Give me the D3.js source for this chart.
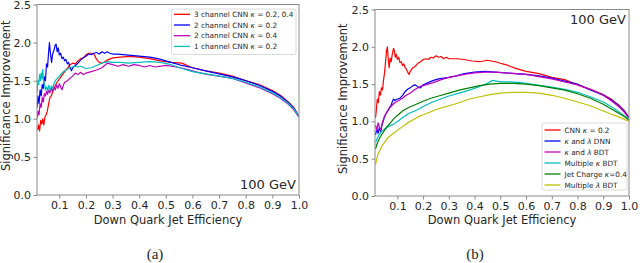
<!DOCTYPE html>
<html>
<head>
<meta charset="utf-8">
<script src="https://cdn.jsdelivr.net/npm/d3@7"></script>
<style>
  html, body { margin: 0; padding: 0; background: #fff; }
  svg { display: block; font-family: 'DejaVu Sans', sans-serif; }
</style>
</head>
<body>
<div id="chart"></div>
<script>
// Data: [efficiency, significance improvement]

let ticksX = [0.1, 0.2, 0.3, 0.4, 0.5, 0.6, 0.7, 0.8, 0.9, 1.0]
let ticksY = [0.0, 0.5, 1.0, 1.5, 2.0, 2.5]

// (a)
let labelsA = [`3 channel CNN κ = 0.2, 0.4`, `2 channel CNN κ = 0.2`, `2 channel CNN κ = 0.4`, `1 channel CNN κ = 0.2`]
let colorsA = [`#ff0000`, `#0000ff`, `#bf00bf`, `#00bfbf`]

let cnn3ch = [[0.018,0.85],[0.022,0.92],[0.026,0.84],[0.03,0.98],[0.034,0.93],[0.038,1.0],[0.042,0.92],[0.046,1.02],[0.05,1.05],[0.055,1.1],[0.06,1.2],[0.065,1.28],[0.07,1.3],[0.08,1.4],[0.09,1.47],[0.1,1.52],[0.11,1.57],[0.12,1.62],[0.13,1.66],[0.14,1.71],[0.15,1.73],[0.16,1.72],[0.17,1.76],[0.18,1.79],[0.19,1.8],[0.2,1.84],[0.21,1.86],[0.22,1.86],[0.23,1.85],[0.24,1.78],[0.25,1.74],[0.26,1.73],[0.27,1.75],[0.28,1.77],[0.3,1.8],[0.33,1.81],[0.36,1.82],[0.4,1.81],[0.44,1.79],[0.48,1.76],[0.52,1.74],[0.56,1.73],[0.6,1.67],[0.65,1.63],[0.7,1.6],[0.75,1.56],[0.8,1.5],[0.85,1.45],[0.9,1.37],[0.93,1.31],[0.96,1.22],[0.98,1.15],[1.0,1.03]]
let cnn2chK2 = [[0.017,1.15],[0.02,1.3],[0.024,1.2],[0.028,1.38],[0.032,1.3],[0.036,1.45],[0.04,1.4],[0.044,1.55],[0.048,1.5],[0.052,1.72],[0.056,1.68],[0.06,1.88],[0.063,2.0],[0.067,1.85],[0.071,1.74],[0.075,1.85],[0.08,1.9],[0.085,1.97],[0.088,1.98],[0.092,1.88],[0.096,1.93],[0.1,1.84],[0.105,1.86],[0.11,1.79],[0.115,1.81],[0.12,1.76],[0.125,1.78],[0.13,1.72],[0.135,1.74],[0.14,1.67],[0.146,1.63],[0.15,1.67],[0.16,1.7],[0.17,1.73],[0.18,1.77],[0.19,1.8],[0.2,1.82],[0.21,1.85],[0.22,1.84],[0.23,1.86],[0.24,1.87],[0.25,1.85],[0.26,1.88],[0.27,1.86],[0.28,1.88],[0.29,1.86],[0.3,1.85],[0.32,1.85],[0.35,1.84],[0.38,1.83],[0.41,1.82],[0.44,1.81],[0.47,1.79],[0.5,1.76],[0.53,1.73],[0.56,1.7],[0.6,1.67],[0.65,1.63],[0.7,1.59],[0.75,1.55],[0.8,1.5],[0.85,1.44],[0.9,1.36],[0.93,1.3],[0.96,1.21],[0.98,1.14],[1.0,1.03]]
let cnn2chK4 = [[0.017,1.0],[0.02,1.1],[0.024,1.05],[0.028,1.2],[0.032,1.15],[0.036,1.28],[0.04,1.22],[0.044,1.33],[0.048,1.3],[0.052,1.36],[0.056,1.32],[0.06,1.38],[0.065,1.34],[0.07,1.4],[0.075,1.36],[0.08,1.42],[0.085,1.38],[0.09,1.44],[0.095,1.4],[0.1,1.46],[0.105,1.42],[0.11,1.38],[0.115,1.44],[0.12,1.48],[0.13,1.5],[0.14,1.53],[0.15,1.56],[0.16,1.6],[0.17,1.58],[0.18,1.61],[0.19,1.58],[0.2,1.6],[0.22,1.62],[0.24,1.64],[0.26,1.67],[0.28,1.73],[0.3,1.71],[0.32,1.69],[0.34,1.71],[0.36,1.69],[0.38,1.71],[0.4,1.7],[0.42,1.68],[0.44,1.7],[0.46,1.68],[0.5,1.7],[0.54,1.68],[0.58,1.65],[0.62,1.61],[0.66,1.58],[0.7,1.56],[0.75,1.53],[0.8,1.47],[0.85,1.41],[0.9,1.33],[0.93,1.27],[0.96,1.19],[0.98,1.12],[1.0,1.02]]
let cnn1ch = [[0.017,1.35],[0.02,1.5],[0.023,1.45],[0.026,1.58],[0.029,1.5],[0.032,1.6],[0.035,1.52],[0.038,1.65],[0.041,1.5],[0.044,1.45],[0.048,1.38],[0.052,1.42],[0.056,1.36],[0.06,1.44],[0.065,1.38],[0.07,1.43],[0.075,1.4],[0.08,1.46],[0.085,1.5],[0.09,1.52],[0.1,1.56],[0.11,1.6],[0.12,1.63],[0.13,1.65],[0.14,1.67],[0.15,1.68],[0.16,1.69],[0.17,1.68],[0.18,1.69],[0.2,1.66],[0.22,1.67],[0.24,1.7],[0.26,1.73],[0.28,1.75],[0.3,1.74],[0.33,1.74],[0.36,1.73],[0.4,1.74],[0.44,1.75],[0.48,1.74],[0.52,1.71],[0.56,1.66],[0.6,1.62],[0.65,1.59],[0.7,1.56],[0.75,1.53],[0.8,1.48],[0.85,1.42],[0.9,1.34],[0.93,1.28],[0.96,1.2],[0.98,1.13],[1.0,1.03]]

// (b)
let labelsB = [`CNN κ = 0.2`, `κ and λ DNN`, `κ and λ BDT`, `Multiple κ BDT`, `Jet Charge κ=0.4`, `Multiple λ BDT`]
let colorsB = [`#ff0000`, `#0000ff`, `#bf00bf`, `#00bfbf`, `#008000`, `#bfbf00`]

let cnn = [[0.015,1.05],[0.018,1.15],[0.022,1.3],[0.026,1.25],[0.03,1.4],[0.034,1.35],[0.038,1.45],[0.042,1.42],[0.046,1.55],[0.05,1.65],[0.054,1.8],[0.058,1.95],[0.061,2.0],[0.064,1.85],[0.068,1.72],[0.072,1.85],[0.076,1.8],[0.08,1.9],[0.085,1.98],[0.088,1.95],[0.092,1.86],[0.096,1.9],[0.1,1.83],[0.105,1.86],[0.11,1.79],[0.115,1.8],[0.12,1.75],[0.125,1.77],[0.13,1.72],[0.135,1.7],[0.14,1.66],[0.145,1.63],[0.15,1.67],[0.16,1.72],[0.17,1.74],[0.18,1.78],[0.19,1.8],[0.2,1.83],[0.21,1.84],[0.22,1.83],[0.23,1.86],[0.24,1.85],[0.25,1.88],[0.26,1.86],[0.27,1.87],[0.28,1.84],[0.29,1.86],[0.3,1.84],[0.33,1.84],[0.36,1.83],[0.39,1.81],[0.42,1.8],[0.45,1.82],[0.48,1.8],[0.5,1.78],[0.53,1.75],[0.56,1.71],[0.6,1.67],[0.65,1.64],[0.7,1.59],[0.75,1.56],[0.8,1.49],[0.85,1.43],[0.9,1.36],[0.93,1.3],[0.96,1.22],[0.98,1.15],[1.0,1.05]]
let dnnKL = [[0.015,0.82],[0.02,0.9],[0.025,0.84],[0.03,0.92],[0.035,0.86],[0.04,0.95],[0.045,1.0],[0.05,1.06],[0.055,1.1],[0.06,1.13],[0.065,1.15],[0.07,1.19],[0.075,1.21],[0.08,1.26],[0.085,1.3],[0.09,1.28],[0.1,1.3],[0.11,1.31],[0.12,1.35],[0.13,1.4],[0.14,1.43],[0.15,1.45],[0.16,1.48],[0.17,1.49],[0.18,1.46],[0.19,1.45],[0.2,1.49],[0.22,1.52],[0.24,1.55],[0.26,1.57],[0.28,1.58],[0.3,1.59],[0.33,1.61],[0.36,1.64],[0.4,1.66],[0.44,1.67],[0.48,1.66],[0.52,1.65],[0.56,1.64],[0.6,1.63],[0.65,1.61],[0.7,1.58],[0.75,1.54],[0.8,1.5],[0.85,1.42],[0.9,1.35],[0.93,1.29],[0.96,1.21],[0.98,1.14],[1.0,1.05]]
let bdtKL = [[0.015,0.95],[0.02,0.88],[0.025,0.98],[0.03,0.92],[0.035,0.88],[0.04,0.96],[0.045,1.02],[0.05,1.07],[0.06,1.13],[0.07,1.18],[0.08,1.22],[0.09,1.25],[0.1,1.27],[0.11,1.29],[0.12,1.31],[0.13,1.34],[0.14,1.36],[0.15,1.38],[0.17,1.43],[0.19,1.47],[0.21,1.49],[0.24,1.52],[0.27,1.56],[0.3,1.59],[0.33,1.61],[0.36,1.63],[0.4,1.65],[0.44,1.66],[0.48,1.66],[0.52,1.65],[0.56,1.64],[0.6,1.63],[0.65,1.6],[0.7,1.57],[0.75,1.53],[0.8,1.49],[0.85,1.43],[0.9,1.35],[0.93,1.28],[0.96,1.2],[0.98,1.13],[1.0,1.04]]
let bdtMultiK = [[0.015,0.72],[0.02,0.76],[0.03,0.83],[0.04,0.87],[0.05,0.9],[0.06,0.92],[0.07,0.94],[0.085,0.96],[0.1,1.0],[0.12,1.05],[0.14,1.1],[0.16,1.13],[0.18,1.16],[0.2,1.2],[0.23,1.25],[0.26,1.29],[0.3,1.34],[0.34,1.38],[0.38,1.42],[0.42,1.47],[0.45,1.51],[0.47,1.55],[0.5,1.53],[0.54,1.53],[0.58,1.52],[0.62,1.5],[0.66,1.48],[0.7,1.46],[0.75,1.43],[0.8,1.39],[0.85,1.33],[0.9,1.26],[0.93,1.2],[0.96,1.13],[0.98,1.08],[1.0,1.03]]
let jetCharge = [[0.015,0.63],[0.02,0.69],[0.03,0.77],[0.04,0.83],[0.05,0.88],[0.06,0.93],[0.07,0.97],[0.085,1.03],[0.1,1.08],[0.12,1.14],[0.14,1.18],[0.16,1.21],[0.18,1.24],[0.2,1.27],[0.23,1.31],[0.26,1.34],[0.3,1.38],[0.34,1.42],[0.38,1.45],[0.42,1.48],[0.46,1.5],[0.5,1.51],[0.55,1.51],[0.6,1.5],[0.65,1.48],[0.7,1.45],[0.75,1.42],[0.8,1.37],[0.85,1.31],[0.9,1.23],[0.93,1.17],[0.96,1.11],[0.98,1.07],[1.0,1.02]]
let bdtMultiL = [[0.015,0.42],[0.02,0.5],[0.025,0.56],[0.03,0.6],[0.04,0.67],[0.05,0.72],[0.06,0.77],[0.07,0.8],[0.085,0.84],[0.1,0.88],[0.12,0.93],[0.14,0.98],[0.16,1.02],[0.18,1.06],[0.2,1.09],[0.23,1.13],[0.26,1.17],[0.3,1.21],[0.34,1.25],[0.38,1.3],[0.42,1.33],[0.46,1.36],[0.5,1.38],[0.55,1.39],[0.6,1.39],[0.65,1.38],[0.7,1.35],[0.75,1.31],[0.8,1.26],[0.85,1.21],[0.9,1.14],[0.93,1.1],[0.96,1.06],[0.98,1.03],[1.0,1.0]]

// Helpers

d3.selection.prototype.attrs = function (obj) {
  Object.entries(obj).forEach(([k, v]) => this.attr(k, v))
  return this
}

let width = 640
let height = 263
let spine = `#8a8a8a`
let ink = `#262626`

let svg = d3.select(`#chart`)
  .append(`svg`)
  .attrs({ width, height, viewBox: `0 0 ${width} ${height}` })

// greek letters are set in italic, like matplotlib mathtext
let richText = (sel, str) => {
  str.split(/([κλ])/).filter(s => s.length).forEach(part => {
    let t = sel.append(`tspan`).text(part)
    if (/[κλ]/.test(part)) t.attr(`font-style`, `italic`)
  })
}

let panel = ({ id, left, right, top, bottom, xMin, series, colors, labels, legend, energy, ylabelX, captionX, caption }) => {
  let x = d3.scaleLinear().domain([xMin, 1.0]).range([left, right])
  let y = d3.scaleLinear().domain([0, 2.5]).range([bottom, top])

  let g = svg.append(`g`).attr(`class`, `panel-${id}`)

  g.append(`clipPath`).attr(`id`, `clip-${id}`)
    .append(`rect`)
    .attrs({ x: left, y: top, width: right - left, height: bottom - top })

  // Curves

  let line = d3.line().x(d => x(d[0])).y(d => y(d[1]))

  g.append(`g`)
    .attr(`clip-path`, `url(#clip-${id})`)
    .selectAll(`path`)
    .data(series)
    .join(`path`)
    .attrs({
      d: line,
      fill: `none`,
      'stroke-width': 1.2,
      'stroke-linejoin': `round`,
    })
    .attr(`stroke`, (d, i) => colors[i])

  // Axes

  let xAxis = d3.axisBottom(x).tickValues(ticksX).tickFormat(d3.format(`.1f`)).tickSize(3.5).tickPadding(2.5)
  let yAxis = d3.axisLeft(y).tickValues(ticksY).tickFormat(d3.format(`.1f`)).tickSize(3.5).tickPadding(2.5)

  g.append(`g`).attr(`transform`, `translate(0,${bottom})`).call(xAxis)
  g.append(`g`).attr(`transform`, `translate(${left},0)`).call(yAxis)

  g.selectAll(`.domain`).remove()
  g.selectAll(`.tick line`).attr(`stroke`, spine)
  g.selectAll(`.tick text`).attrs({ fill: ink, 'font-size': 11, 'font-family': `'DejaVu Sans', sans-serif` })

  // Frame

  g.append(`rect`)
    .attrs({ x: left, y: top, width: right - left, height: bottom - top, fill: `none`, stroke: spine, 'stroke-width': 1 })

  // Labels

  g.append(`text`)
    .attrs({ x: (left + right) / 2, y: 224, 'text-anchor': `middle`, 'font-size': 11.5, fill: ink })
    .text(`Down Quark Jet Efficiency`)

  g.append(`text`)
    .attrs({
      transform: `translate(${ylabelX},${(top + bottom) / 2 - 4}) rotate(-90)`,
      'text-anchor': `middle`, 'font-size': 11.5, fill: ink,
    })
    .text(`Significance Improvement`)

  g.append(`text`)
    .attrs({ x: energy.x, y: energy.y, 'text-anchor': `end`, 'font-size': 13, fill: ink })
    .text(`100 GeV`)

  g.append(`text`)
    .attrs({
      x: captionX, y: 258.5, 'text-anchor': `middle`,
      'font-size': 15, 'font-family': `'Liberation Serif', serif`, fill: ink,
    })
    .text(caption)

  // Legend

  let lg = g.append(`g`).attr(`transform`, `translate(${legend.x},${legend.y})`)

  lg.append(`rect`)
    .attrs({ x: 0, y: 0, width: legend.w, height: legend.h, rx: 2, fill: `#fff`, 'fill-opacity': 0.85, stroke: `#d0d0d0`, 'stroke-width': 0.8 })

  labels.forEach((label, i) => {
    let cy = legend.first + i * legend.step
    lg.append(`line`)
      .attrs({ x1: 2.5, x2: 18.5, y1: cy, y2: cy, stroke: colors[i], 'stroke-width': 1.3 })
    lg.append(`text`)
      .attrs({ x: 22.5, y: cy + 2.6, 'font-size': 7.3, fill: ink })
      .call(richText, label)
  })
}

panel({
  id: `a`,
  left: 37, right: 299, top: 4.5, bottom: 195,
  xMin: 0.0163,
  series: [cnn3ch, cnn2chK2, cnn2chK4, cnn1ch],
  colors: colorsA,
  labels: labelsA,
  legend: { x: 171.5, y: 9, w: 124.5, h: 45.5, first: 14.3 - 9, step: 10.7 },
  energy: { x: 296, y: 189 },
  ylabelX: 9.5,
  captionX: 155,
  caption: `(a)`,
})

panel({
  id: `b`,
  left: 375, right: 629, top: 9.5, bottom: 196,
  xMin: 0.013,
  series: [cnn, dnnKL, bdtKL, bdtMultiK, jetCharge, bdtMultiL],
  colors: colorsB,
  labels: labelsB,
  legend: { x: 542, y: 123, w: 85, h: 67, first: 130 - 123, step: 11 },
  energy: { x: 626, y: 23.5 },
  ylabelX: 347,
  captionX: 475,
  caption: `(b)`,
})
</script>
</body>
</html>
